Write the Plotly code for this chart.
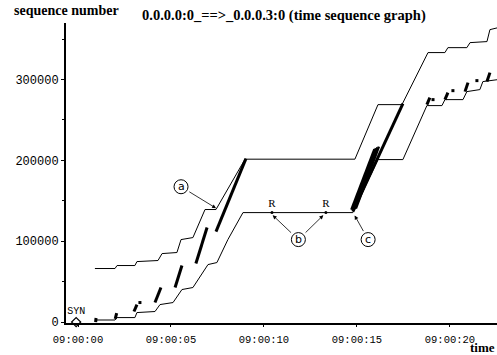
import plotly.graph_objects as go

# ---- data (time in seconds after 09:00:00, sequence numbers) ----
# advertised window (upper staircase)
win_t = [0.91, 1.99, 2.10, 3.06, 3.17, 4.30, 4.52, 5.32, 5.54, 6.18, 6.83, 7.42,
         8.98, 14.89, 16.13, 17.42, 18.82, 19.73, 19.89, 20.91, 21.08, 21.99, 22.15, 22.60]
win_seq = [66200, 66200, 69900, 69900, 74800, 76100, 84700, 86000, 102000, 104500, 139200, 139200,
           201500, 201500, 269000, 269000, 333400, 333400, 339500, 339500, 345700, 347000, 361800, 364300]

# acknowledgements (lower staircase)
ack_t = [0.91, 1.99, 2.10, 3.06, 3.17, 4.14, 4.41, 5.11, 5.59, 6.18, 6.99, 7.47,
         8.06, 8.87, 14.78, 16.13, 17.47, 18.76, 19.57, 19.73, 20.70, 20.91, 21.61, 21.77, 22.60]
ack_seq = [2500, 2500, 5500, 5500, 11700, 13000, 21600, 24100, 40200, 42700, 71100, 73600,
           102000, 135400, 135400, 201000, 201000, 267800, 267800, 275200, 275200, 285100, 287600, 297500, 300000]

# transmitted data segments (start/end)
seg_t0 = [0.95, 2.00, 3.01, 4.14, 5.22, 6.34, 7.42, 14.78, 18.76, 19.73, 20.81, 21.99]
seg_s0 = [0, 4000, 13000, 24100, 42700, 72400, 111900, 136500, 269000, 275200, 285100, 297500]
seg_t1 = [0.97, 2.08, 3.17, 4.46, 5.59, 6.94, 9.03, 17.47, 18.92, 19.89, 20.97, 22.15]
seg_s1 = [5000, 11000, 21600, 42700, 69900, 116900, 202200, 270100, 277700, 283800, 296200, 308600]

# retransmission burst near (c)
retx_t0 = [14.70, 14.78, 14.86, 14.94]
retx_s0 = [139000, 139500, 140000, 140500]
retx_t1 = [15.94, 16.02, 16.10, 16.18]
retx_s1 = [214000, 215000, 216000, 217000]

# single short segments (dots)
dot_t = [3.33, 19.09, 20.16, 21.45]
dot_s = [24100, 275200, 286300, 298700]

# retransmission markers "R"
r_t = [10.43, 13.33]
r_s = [135400, 135400]

syn_t = [-0.1]
syn_s = [0]

tick_vals = [0, 5, 10, 15, 20]
tick_text = ["09:00:00", "09:00:05", "09:00:10", "09:00:15", "09:00:20"]
ytick_vals = [0, 100000, 200000, 300000]
ytick_text = ["0", "100000", "200000", "300000"]

# callouts: letter, target (t, seq), circle centre (t, seq)
call_letters = ["a", "b", "b", "c"]
call_tx = [7.47, 10.43, 13.23, 14.85]
call_ts = [140200, 133000, 133000, 133000]
call_cx = [5.54, 11.85, 11.85, 15.60]
call_cs = [167400, 102000, 102000, 102000]


def segs(t0, s0, t1, s1):
    xs, ys = [], []
    for a, b, c, d in zip(t0, s0, t1, s1):
        xs += [a, c, None]
        ys += [b, d, None]
    return xs, ys


fig = go.Figure()
fig.add_trace(go.Scatter(x=win_t, y=win_seq, mode="lines",
                         line=dict(color="black", width=1), hoverinfo="skip"))
fig.add_trace(go.Scatter(x=ack_t, y=ack_seq, mode="lines",
                         line=dict(color="black", width=1), hoverinfo="skip"))
rx, ry = segs(retx_t0, retx_s0, retx_t1, retx_s1)
fig.add_trace(go.Scatter(x=rx, y=ry, mode="lines",
                         line=dict(color="black", width=2.5), hoverinfo="skip"))
sx, sy = segs(seg_t0, seg_s0, seg_t1, seg_s1)
fig.add_trace(go.Scatter(x=sx, y=sy, mode="lines",
                         line=dict(color="black", width=3), hoverinfo="skip"))
fig.add_trace(go.Scatter(x=dot_t, y=dot_s, mode="markers",
                         marker=dict(color="black", size=3, symbol="square"), hoverinfo="skip"))
fig.add_trace(go.Scatter(x=r_t, y=r_s, mode="markers+text", text=["R", "R"],
                         textposition="top center",
                         textfont=dict(family="Liberation Serif", size=11, color="black"),
                         marker=dict(color="black", size=3), hoverinfo="skip"))
fig.add_trace(go.Scatter(x=syn_t, y=syn_s, mode="markers+text", text=["SYN"],
                         textposition="top center",
                         textfont=dict(family="Liberation Mono", size=10, color="black"),
                         marker=dict(color="black", size=7, symbol="diamond-open",
                                     line=dict(width=1.2)), hoverinfo="skip", cliponaxis=False))

shapes = []
annotations = []
seen = set()
for L, tx, ts, cx, cs in zip(call_letters, call_tx, call_ts, call_cx, call_cs):
    if (cx, cs) not in seen:
        seen.add((cx, cs))
        shapes.append(dict(type="circle", xref="x", yref="y", xsizemode="pixel", ysizemode="pixel",
                           xanchor=cx, yanchor=cs, x0=-7, x1=7, y0=-7, y1=7,
                           line=dict(color="black", width=1)))
        annotations.append(dict(x=cx, y=cs, xref="x", yref="y", text=L, showarrow=False,
                                font=dict(family="DejaVu Sans", size=11, color="black")))
    annotations.append(dict(x=tx, y=ts, xref="x", yref="y", ax=cx, ay=cs, axref="x", ayref="y",
                            text="", showarrow=True, arrowhead=2, arrowsize=1, arrowwidth=0.8,
                            arrowcolor="black", startstandoff=8, standoff=1))

annotations += [
    dict(text="<b>sequence number</b>", xref="paper", yref="paper", x=-0.125, y=1.0,
         xanchor="left", yanchor="bottom", yshift=3, showarrow=False,
         font=dict(family="Liberation Serif", size=14, color="black")),
    dict(text="<b>0.0.0.0:0_==>_0.0.0.3:0 (time sequence graph)</b>", xref="paper", yref="paper",
         x=0.505, y=1.0, xanchor="center", yanchor="bottom", yshift=-3, showarrow=False,
         font=dict(family="Liberation Serif", size=14.5, color="black")),
    dict(text="<b>time</b>", xref="paper", yref="paper", x=1.0, y=0, xanchor="right",
         yanchor="top", yshift=-15, showarrow=False,
         font=dict(family="Liberation Serif", size=13, color="black")),
]

fig.update_layout(
    width=497, height=355, margin=dict(l=66, r=0, t=23, b=32),
    paper_bgcolor="white", plot_bgcolor="white", showlegend=False,
    shapes=shapes, annotations=annotations,
    xaxis=dict(range=[-0.645, 22.53], showgrid=False, zeroline=False, showline=True,
               linecolor="black", linewidth=2, ticks="outside", ticklen=2, tickcolor="black",
               tickvals=tick_vals, ticktext=tick_text, ticklabelstandoff=3,
               tickfont=dict(family="Liberation Mono", size=10.5, color="black")),
    yaxis=dict(range=[-1200, 370000], showgrid=False, zeroline=False, showline=True,
               linecolor="black", linewidth=2, ticks="outside", ticklen=3, tickcolor="black",
               tickvals=ytick_vals, ticktext=ytick_text,
               minor=dict(dtick=50000, ticks="outside", ticklen=2, tickcolor="black"),
               tickfont=dict(family="Liberation Mono", size=12, color="black")),
)

fig.write_html("out.html", config={"displayModeBar": False},
               post_script="document.body.style.margin='0px';")
